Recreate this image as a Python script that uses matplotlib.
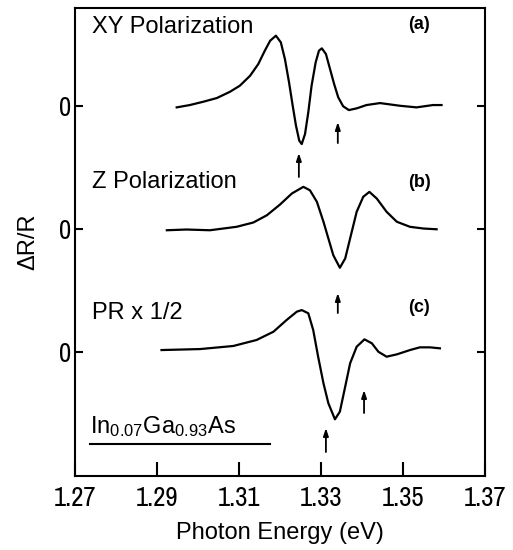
import matplotlib
matplotlib.use('Agg')
import matplotlib.pyplot as plt
from matplotlib import font_manager

# Photon energy (eV) and dR/R (arb. units)
xy_energy = [1.2948, 1.2980, 1.3013, 1.3046, 1.3078, 1.3102, 1.3127, 1.3147, 1.3163,
             1.3176, 1.3190, 1.3202, 1.3212, 1.3222, 1.3231, 1.3239, 1.3247, 1.3253,
             1.3261, 1.3269, 1.3277, 1.3287, 1.3295, 1.3302, 1.3312, 1.3322, 1.3332,
             1.3342, 1.3354, 1.3368, 1.3387, 1.3411, 1.3444, 1.3493, 1.3533, 1.3573,
             1.3594]
xy_signal = [-0.011, 0.008, 0.035, 0.065, 0.116, 0.165, 0.246, 0.341, 0.450,
             0.531, 0.572, 0.518, 0.382, 0.193, 0.002, -0.160, -0.282, -0.309,
             -0.228, -0.051, 0.165, 0.355, 0.450, 0.469, 0.423, 0.301, 0.179,
             0.071, -0.002, -0.033, -0.019, 0.008, 0.024, 0.002, -0.011, 0.008,
             0.008]

z_energy = [1.2924, 1.2972, 1.3029, 1.3094, 1.3135, 1.3168, 1.3200, 1.3229, 1.3257,
            1.3273, 1.3290, 1.3306, 1.3318, 1.3330, 1.3346, 1.3359, 1.3371, 1.3387,
            1.3403, 1.3418, 1.3436, 1.3460, 1.3485, 1.3517, 1.3550, 1.3582]
z_signal = [-0.010, -0.004, -0.010, 0.018, 0.053, 0.112, 0.199, 0.289, 0.343,
            0.315, 0.221, 0.059, -0.077, -0.213, -0.315, -0.240, -0.077, 0.140,
            0.262, 0.302, 0.248, 0.140, 0.059, 0.018, 0.004, -0.002]

pr_energy = [1.2911, 1.3005, 1.3086, 1.3143, 1.3184, 1.3216, 1.3241, 1.3253, 1.3269,
             1.3281, 1.3293, 1.3306, 1.3318, 1.3334, 1.3346, 1.3359, 1.3371, 1.3387,
             1.3406, 1.3424, 1.3440, 1.3460, 1.3485, 1.3517, 1.3541, 1.3566, 1.3590]
pr_signal = [0.016, 0.024, 0.049, 0.098, 0.165, 0.260, 0.328, 0.341, 0.315,
             0.179, -0.038, -0.254, -0.417, -0.547, -0.485, -0.282, -0.092, 0.043,
             0.103, 0.071, 0.002, -0.038, -0.019, 0.016, 0.038, 0.038, 0.030]

offsets = [2, 1, 0]  # vertical shift of each trace
panel_names = ['XY Polarization', 'Z Polarization', 'PR x 1/2']
panel_tags = ['(a)', '(b)', '(c)']

# transition arrows: (energy, tail, head) in shifted units
arrow_energy = [1.3246, 1.3341, 1.3341, 1.3312, 1.3405]
arrow_tail = [1.423, 1.699, 0.317, -0.813, -0.496]
arrow_head = [1.618, 1.870, 0.480, -0.618, -0.309]

x_ticks = [1.27, 1.29, 1.31, 1.33, 1.35, 1.37]

plt.rcParams['font.family'] = ['Liberation Sans', 'DejaVu Sans']
plt.rcParams['mathtext.default'] = 'regular'

# look for a narrow face for the tick numbers (tall condensed digits in the original)
narrow = None
for f in font_manager.fontManager.ttflist:
    tag = (f.name + ' ' + f.fname).lower()
    if ('narrow' in tag or 'condensed' in tag) and f.weight in (400, 'normal', 'regular') \
            and f.style == 'normal':
        if narrow is None or 'narrow' in tag:
            narrow = f.fname
tick_font = font_manager.FontProperties(fname=narrow) if narrow else \
    font_manager.FontProperties(family='Liberation Sans')

fig = plt.figure(figsize=(5.13, 5.5), dpi=100)
ax = fig.add_axes([75 / 513, 74 / 550, 410 / 513, 468 / 550])

series = [(xy_energy, xy_signal), (z_energy, z_signal), (pr_energy, pr_signal)]
for (e, s), off in zip(series, offsets):
    ax.plot(e, [v + off for v in s], color='k', lw=1.6)

for x, t, h in zip(arrow_energy, arrow_tail, arrow_head):
    ax.annotate('', xy=(x, h), xytext=(x, t),
                arrowprops=dict(arrowstyle='-|>,head_width=0.15,head_length=0.45',
                                color='k', lw=1.3, shrinkA=0, shrinkB=0))

ax.set_xlim(1.27, 1.37)
ax.set_ylim(-1.008, 2.797)
ax.set_xticks(x_ticks)
ax.set_xticklabels([f'{t:.2f}' for t in x_ticks])
ax.set_yticks(offsets)
ax.set_yticklabels(['0'] * len(offsets))

ax.tick_params(axis='x', direction='in', length=10, width=1.5, pad=7)
ax.tick_params(axis='y', direction='in', length=6, width=1.5, pad=3, right=True)
for lab in ax.get_xticklabels() + ax.get_yticklabels():
    lab.set_fontproperties(tick_font)
    lab.set_fontsize(21)

for sp in ax.spines.values():
    sp.set_linewidth(1.5)

# panel labels
name_y = [0.959, 0.628, 0.348]
tag_y = [0.964, 0.628, 0.359]
for name, tag, ny, ty in zip(panel_names, panel_tags, name_y, tag_y):
    ax.text(0.041, ny, name, transform=ax.transAxes, fontsize=17, va='center', ha='left')
    ax.text(0.84, ty, tag, transform=ax.transAxes, fontsize=13, fontweight='bold',
            va='center', ha='center')

ax.text(0.037, 0.092, r'In$_{0.07}$Ga$_{0.93}$As', transform=ax.transAxes,
        fontsize=17, va='baseline', ha='left')
ax.plot([0.037, 0.476], [0.068, 0.068], transform=ax.transAxes, color='k', lw=1.5)

ax.set_xlabel('Photon Energy (eV)', fontsize=17, labelpad=8)
ax.set_ylabel('ΔR/R', fontsize=17, labelpad=14)

fig.savefig('out.png', dpi=100)
